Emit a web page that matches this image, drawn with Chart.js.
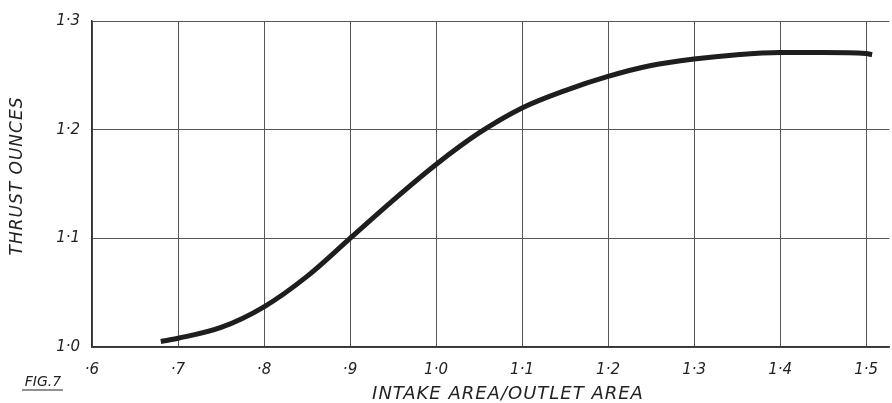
<!DOCTYPE html>
<html>
<head>
<meta charset="utf-8">
<script src="https://cdn.jsdelivr.net/npm/chart.js@4/dist/chart.umd.min.js"></script>
<style>
  body { margin: 0; background: #fff; }
  #wrap { width: 892px; height: 403px; }
</style>
</head>
<body>
<div id="wrap"><canvas id="fig7" width="892" height="403"></canvas></div>
<script>
// area ratio (intake / outlet) and thrust in ounces
var areaRatio = [0.68, 0.70, 0.75, 0.80, 0.85, 0.90, 0.95, 1.00, 1.05, 1.10, 1.15, 1.20, 1.25, 1.30, 1.35, 1.40, 1.45, 1.50, 1.507];
var thrust    = [1.005, 1.008, 1.018, 1.037, 1.065, 1.100, 1.135, 1.168, 1.197, 1.220, 1.236, 1.249, 1.259, 1.265, 1.269, 1.271, 1.271, 1.270, 1.269];
var xTicks = [0.6, 0.7, 0.8, 0.9, 1.0, 1.1, 1.2, 1.3, 1.4, 1.5];
var yTicks = [1.0, 1.1, 1.2, 1.3];

var handFont = "'DejaVu Sans', sans-serif";

// old drawing style: ·6, 1·0 etc.
function dotLabel(v) {
    var s = v.toFixed(1);
    if (s.charAt(0) === '0') s = s.substring(1);
    return s.replace('.', '\u00b7');
}

var points = areaRatio.map(function (x, i) { return { x: x, y: thrust[i] }; });

// captions drawn on the canvas
var captions = {
    id: 'captions',
    afterDraw: function (chart) {
        var ctx = chart.ctx;
        ctx.save();
        ctx.fillStyle = '#222';
        ctx.textBaseline = 'middle';
        ctx.textAlign = 'center';
        ctx.letterSpacing = '1px';
        ctx.font = "italic 18px " + handFont;
        ctx.fillText('INTAKE AREA/OUTLET AREA', 508, 394);

        ctx.letterSpacing = '0px';
        ctx.font = "italic 14px " + handFont;
        ctx.fillText('FIG.7', 43, 382);
        ctx.lineWidth = 1;
        ctx.strokeStyle = '#222';
        ctx.beginPath();
        ctx.moveTo(22, 390);
        ctx.lineTo(63, 390);
        ctx.stroke();

        ctx.letterSpacing = '1px';
        ctx.font = "italic 17px " + handFont;
        ctx.translate(18, 176);
        ctx.rotate(-Math.PI / 2);
        ctx.fillText('THRUST OUNCES', 0, 0);
        ctx.restore();
    }
};

var ctx = document.getElementById('fig7').getContext('2d');
var chart = new Chart(ctx, {
    type: 'line',
    data: {
        datasets: [{
            data: points,
            borderColor: '#1e1e1e',
            borderWidth: 5,
            pointRadius: 0,
            cubicInterpolationMode: 'monotone',
            fill: false
        }]
    },
    options: {
        responsive: false,
        animation: false,
        layout: { padding: { top: 20, right: 0, left: 0, bottom: 0 } },
        plugins: {
            legend: { display: false },
            tooltip: { enabled: false }
        },
        scales: {
            x: {
                type: 'linear',
                min: 0.6,
                max: 1.527,
                afterBuildTicks: function (scale) {
                    scale.ticks = xTicks.map(function (v) { return { value: v }; });
                },
                afterFit: function (scale) { scale.height = 56; },
                grid: { color: '#555', lineWidth: 1, drawTicks: false },
                border: { color: '#333', width: 1.5 },
                ticks: {
                    padding: 14,
                    color: '#222',
                    font: { family: handFont, size: 15, style: 'italic' },
                    maxRotation: 0,
                    callback: function (v) { return dotLabel(v); }
                }
            },
            y: {
                min: 1.0,
                max: 1.3,
                afterBuildTicks: function (scale) {
                    scale.ticks = yTicks.map(function (v) { return { value: v }; });
                },
                afterFit: function (scale) { scale.width = 92; },
                grid: { color: '#555', lineWidth: 1, drawTicks: false },
                border: { color: '#333', width: 1.5 },
                ticks: {
                    padding: 12,
                    color: '#222',
                    font: { family: handFont, size: 15, style: 'italic' },
                    callback: function (v) { return dotLabel(v); }
                }
            }
        }
    },
    plugins: [captions]
});
</script>
</body>
</html>
